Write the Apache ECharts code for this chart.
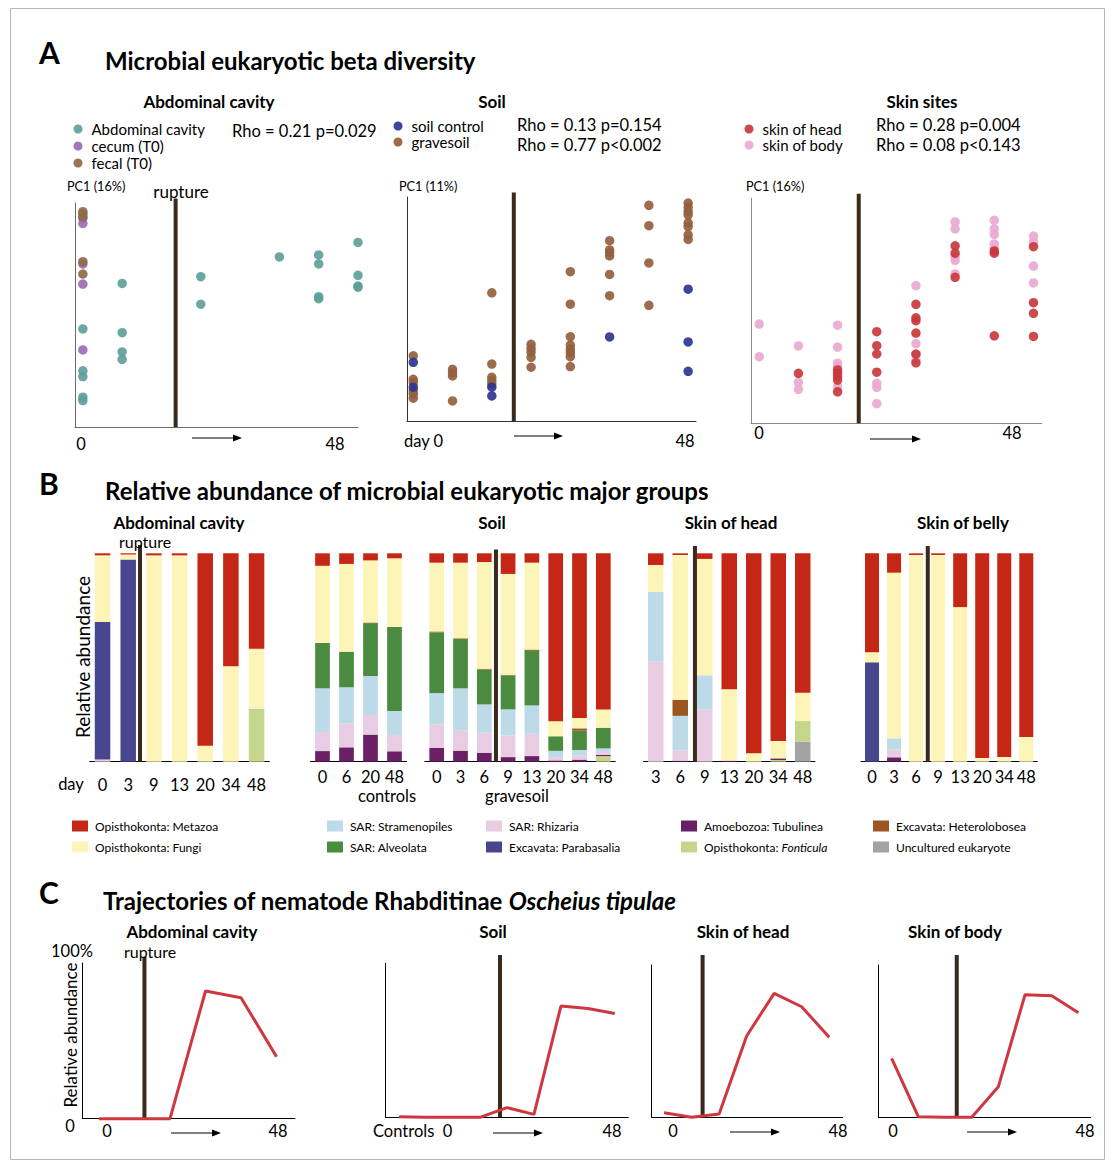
<!DOCTYPE html>
<html lang="en">
<head>
<meta charset="UTF-8">
<title>Microbial eukaryotic beta diversity</title>
<script src="https://cdn.jsdelivr.net/npm/echarts@6/dist/echarts.min.js"></script>
<style>
html, body { margin: 0; padding: 0; background: #fff; }
#main { width: 1113px; height: 1163px; }
</style>
</head>
<body>
<div id="main"></div>
<script>
// ---------- panel A : PC1 position per sampling column (column index, PC1) ----------
var abdCavityPts = [[0,43.8],[0,25.1],[0,22.5],[0,13.3],[0,11.8],[1,64.1],[1,42.1],[1,33.5],[1,30.2],
  [3,67.1],[3,54.8],[5,75.9],[6,76.8],[6,72.8],[6,58.2],[6,57.3],[7,82.4],[7,67.7],[7,62.9],[7,62.4]];
var cecumPts = [[0,93.2],[0,90.9],[0,72.8],[0,63.8],[0,34.4]];
var fecalPts = [[0,96.1],[0,95.1],[0,93.9],[0,73.8],[0,68.3]];
var soilControlPts = [[0,26.3],[0,15.2],[2,15.2],[2,11.3],[5,37.6],[7,58.9],[7,35.4],[7,22.3]];
var gravesoilPts = [[0,29.2],[0,18.7],[0,17.4],[0,13.6],[0,12.2],[0,10.3],[1,23.2],[1,21.7],[1,20.2],[1,9.1],
  [2,57.3],[2,25.5],[2,19.6],[2,18.1],[2,16.6],[3,34.3],[3,32.5],[3,30.8],[3,28.5],[3,24.1],
  [4,66.7],[4,52.2],[4,37.7],[4,34.0],[4,32.1],[4,30.6],[4,28.8],[4,24.4],
  [5,80.5],[5,76.4],[5,75.2],[5,73.8],[5,65.5],[5,56.0],[6,96.3],[6,87.2],[6,70.6],[6,51.7],
  [7,97.3],[7,95.4],[7,93.5],[7,92.0],[7,88.5],[7,86.8],[7,83.1],[7,81.1]];
var skinHeadPts = [[1,22.2],[2,23.7],[2,22.2],[2,20.7],[2,19.2],[2,14.0],[3,40.7],[3,34.5],[3,30.8],[3,22.7],
  [4,52.9],[4,46.9],[4,45.6],[4,40.1],[4,30.8],[4,26.9],[5,78.9],[5,75.6],[5,64.9],[6,76.6],[6,75.6],[6,38.9],
  [7,78.5],[7,53.6],[7,48.9],[7,38.6]];
var skinBodyPts = [[0,44.1],[0,29.6],[1,34.4],[1,18.2],[1,15.1],[2,43.6],[2,33.9],[2,26.7],[2,25.2],[2,16.3],
  [3,17.8],[3,16.0],[3,8.7],[4,61.2],[4,35.4],[4,30.4],[4,28.1],[5,89.5],[5,86.4],[5,74.1],[5,72.4],[5,66.4],
  [6,90.2],[6,86.4],[6,84.0],[6,79.7],[6,77.8],[7,83.2],[7,80.6],[7,69.9],[7,62.4]];

// ---------- panel B : relative abundance (%) ----------
// bars in order: abdominal(7) | soil controls(4) | gravesoil(8) | skin of head(7) | skin of belly(8)
var abdDays = ['0','3','9','13','20','34','48'];
var controlDays = ['0','6','20','48'];
var graveDays = ['0','3','6','9','13','20','34','48'];
var headDays = ['3','6','9','13','20','34','48'];
var bellyDays = ['0','3','6','9','13','20','34','48'];

var metazoa =       [1,0.6,1,1,92.3,54.2,45.8,  6,5.1,3.4,2.4,  4.5,4.5,4.2,9.9,4.5,80.6,79,74.9,  5.6,0.8,2.7,65.2,96,90.1,66.9,  47.5,9.3,0.8,0.8,25.8,98.2,97.8,88.2];
var fungi =         [32,2.4,99,99,7.7,45.8,29.1,  37,42.1,29.8,33,  33,36.3,51.2,48.4,41.7,7.2,5,8.8,  12.8,69.5,55.8,34.3,4,8.3,13.6,  4.8,79.5,99.2,99.2,74.2,1.8,2.2,11.8];
var heterolobosea = [0,0,0,0,0,0,0,  0,0,0.3,0,  0.5,0.3,0.3,0.3,0.6,0,1.1,0,  0,7.7,0,0,0,0,0,  0,0,0,0,0,0,0,0];
var alveolata =     [0,0,0,0,0,0,0,  21.8,17.1,25.4,40.3,  29.1,23.7,16.8,16.3,26.2,7,9.3,9.9,  0,0,0,0,0,0,0,  0,0,0,0,0,0,0,0];
var stramenopiles = [0,0,0,0,0,0,0,  21,17.4,18.7,11.5,  15,20.3,13.6,12.5,13.6,3,2.7,1.3,  33.6,16.5,16.5,0,0,0,0,  0,5.3,0,0,0,0,0,0];
var parabasalia =   [66,97,0,0,0,0,0.3,  0,0,0,0,  0,0,0,0,0,0,0,0,  0,0,0,0,0,0,0,  47.7,0,0,0,0,0,0,0];
var rhizaria =      [1,0,0,0,0,0,0,  9.1,11.4,9.4,7.8,  11.2,9.6,9.6,10.4,10.7,1.6,1.9,1.8,  48,5,25,0,0,0,0,  0,3.8,0,0,0,0,0,0];
var tubulinea =     [0,0,0,0,0,0,0,  5.1,6.9,13,5,  6.7,5.3,4.3,2.2,2.7,0.6,1,0.6,  0,0.5,0,0.5,0,0.8,0,  0,2.1,0,0,0,0,0,0];
var fonticula =     [0,0,0,0,0,0,24.8,  0,0,0,0,  0,0,0,0,0,0,0,2.7,  0,0,0,0,0,0.8,9.9,  0,0,0,0,0,0,0,0];
var uncultured =    [0,0,0,0,0,0,0,  0,0,0,0,  0,0,0,0,0,0,0,0,  0,0,0,0,0,0,9.6,  0,0,0,0,0,0,0,0];

// stacking order, bottom to top
var taxonNames = ['Uncultured eukaryote','Opisthokonta: Fonticula','Amoebozoa: Tubulinea','SAR: Rhizaria',
  'Excavata: Parabasalia','SAR: Stramenopiles','SAR: Alveolata','Excavata: Heterolobosea',
  'Opisthokonta: Fungi','Opisthokonta: Metazoa'];
var taxonValues = [uncultured, fonticula, tubulinea, rhizaria, parabasalia, stramenopiles, alveolata,
  heterolobosea, fungi, metazoa];
var taxonColors = ['#a3a3a3','#c4d68b','#6a2066','#e8cce1','#48468f','#bcdae8','#4b8b3f','#9b5622','#fdf4b8','#c52716'];

// ---------- panel C : Oscheius tipulae relative abundance (%) ----------
var abdNematode = [0, 0, 0, 82, 77.7, 39.8];
var soilNematode = [0.4, 0, 0, 0, 6.3, 1.9, 72.2, 70.7, 67.4];
var headNematode = [3.0, 0, 2.2, 53.4, 81.4, 72.6, 52.5];
var bodyNematode = [38.7, 0.4, 0, 0, 20.1, 80.5, 79.8, 68.7];

var FONT = 'Lato, "Noto Sans", sans-serif';
var RUPTURE = '#3a2a1c';

var grids = [], xAxes = [], yAxes = [], series = [], graphics = [], legends = [];

function addGrid(b) {
    grids.push({ left: b[0], top: b[1], width: b[2], height: b[3], outerBoundsMode: 'none' });
    return grids.length - 1;
}
function valAxis(g, min, max, color, show) {
    return { type: 'value', gridIndex: g, min: min, max: max, show: show !== false,
        axisLine: { show: true, onZero: false, lineStyle: { color: color, width: 1 } },
        axisTick: { show: false }, axisLabel: { show: false }, splitLine: { show: false } };
}
function rupture(xi, yi, x, top) {
    return { type: 'line', xAxisIndex: xi, yAxisIndex: yi, data: [[x, 0], [x, top]], symbol: 'none',
        clip: false, silent: true, z: 5, lineStyle: { color: RUPTURE, width: 4 } };
}

// ---- A ----
var scatterPanels = [
    { box: [75, 203, 283, 224], xr: [-0.2, 7], rup: 2.36, axis: '#6b6b6b',
      sets: [['Abdominal cavity', abdCavityPts, '#5f9f9b'], ['cecum (T0)', cecumPts, '#9b6db4'], ['fecal (T0)', fecalPts, '#8d6c4a']] },
    { box: [407, 197, 289, 224.3], xr: [-0.16, 7.2], rup: 2.56, axis: '#333',
      sets: [['gravesoil', gravesoilPts, '#94603e'], ['soil control', soilControlPts, '#2e3591']] },
    { box: [751, 198.3, 290.7, 225], xr: [-0.21, 7.21], rup: 2.54, axis: '#8a8a8a',
      sets: [['skin of body', skinBodyPts, '#eaa9d1'], ['skin of head', skinHeadPts, '#c8393d']] }
];
scatterPanels.forEach(function (p) {
    var g = addGrid(p.box);
    xAxes.push(valAxis(g, p.xr[0], p.xr[1], p.axis));
    yAxes.push(valAxis(g, 0, 100, p.axis));
    var xi = xAxes.length - 1, yi = yAxes.length - 1;
    p.sets.forEach(function (s) {
        series.push({ type: 'scatter', name: s[0], xAxisIndex: xi, yAxisIndex: yi, data: s[1],
            symbolSize: 9.5, clip: false, itemStyle: { color: s[2], opacity: 0.92 } });
    });
    series.push(rupture(xi, yi, p.rup, 102));
});

// ---- B ----
var barPanels = [
    { cats: abdDays, from: 0, box: [89.7, 553.3, 179.7, 208.4], bw: 15.5, rup: 1.96, top: 104, margin: 15 },
    { cats: controlDays, from: 7, box: [310.5, 553.3, 96, 208.4], bw: 14.7, margin: 7 },
    { cats: graveDays, from: 11, box: [424.8, 553.3, 190.4, 208.4], bw: 14.7, rup: 2.99, top: 101.8, margin: 7 },
    { cats: headDays, from: 19, box: [643.5, 553.3, 171.5, 208.4], bw: 15.5, rup: 2.10, top: 103.5, margin: 7 },
    { cats: bellyDays, from: 26, box: [861, 553.3, 176.3, 208.4], bw: 14, rup: 3.03, top: 103.5, margin: 7 }
];
barPanels.forEach(function (p, k) {
    var g = addGrid(p.box);
    xAxes.push({ type: 'category', gridIndex: g, data: p.cats,
        axisLine: { lineStyle: { color: '#000', width: 1 } }, axisTick: { show: false },
        axisLabel: { interval: 0, margin: p.margin, color: '#000', fontSize: 16.5, fontFamily: FONT } });
    var xi = xAxes.length - 1;
    yAxes.push(valAxis(g, 0, 100, '#000', false));
    var yi = yAxes.length - 1;
    taxonNames.forEach(function (name, t) {
        series.push({ type: 'bar', name: name, xAxisIndex: xi, yAxisIndex: yi, stack: 'b' + k,
            barWidth: p.bw, itemStyle: { color: taxonColors[t] },
            data: taxonValues[t].slice(p.from, p.from + p.cats.length) });
    });
    if (p.rup !== undefined) {
        xAxes.push(valAxis(g, 0, p.cats.length, '#000', false));
        series.push(rupture(xAxes.length - 1, yi, p.rup, p.top));
    }
});

// ---- C ----
var linePanels = [
    { vals: abdNematode, box: [82.3, 963, 212.7, 155.7], xr: [-0.47, 5.52], rup: 1.28, top: 104 },
    { vals: soilNematode, box: [385.7, 963.3, 242.6, 154], xr: [-0.5, 8.5], rup: 3.74, top: 105.4 },
    { vals: headNematode, box: [651.7, 965, 191, 152.3], xr: [-0.45, 6.49], rup: 1.40, top: 106.6 },
    { vals: bodyNematode, box: [878.3, 965, 212.4, 152.3], xr: [-0.5, 7.46], rup: 2.44, top: 106.6 }
];
linePanels.forEach(function (p) {
    var g = addGrid(p.box);
    xAxes.push(valAxis(g, p.xr[0], p.xr[1], '#000'));
    yAxes.push(valAxis(g, 0, 100, '#000'));
    var xi = xAxes.length - 1, yi = yAxes.length - 1;
    series.push(rupture(xi, yi, p.rup, p.top));
    series.push({ type: 'line', xAxisIndex: xi, yAxisIndex: yi, symbol: 'none', clip: false, z: 6,
        lineStyle: { color: '#cf3740', width: 3 },
        data: p.vals.map(function (v, i) { return [i, v]; }) });
});

// ---- legends ----
function scatterLegend(left, top, gap, names) {
    legends.push({ data: names, orient: 'vertical', left: left, top: top, padding: 0, itemGap: gap,
        icon: 'circle', itemWidth: 9, itemHeight: 9, selectedMode: false,
        textStyle: { fontSize: 15, color: '#000', fontFamily: FONT, padding: [0, 0, 0, 4] } });
}
scatterLegend(73.5, 121.5, 2, ['Abdominal cavity', 'cecum (T0)', 'fecal (T0)']);
scatterLegend(393.5, 118.5, 1, ['soil control', 'gravesoil']);
scatterLegend(744.5, 121.5, 1, ['skin of head', 'skin of body']);

var legendCols = [
    [72, ['Opisthokonta: Metazoa', 'Opisthokonta: Fungi']],
    [327, ['SAR: Stramenopiles', 'SAR: Alveolata']],
    [486, ['SAR: Rhizaria', 'Excavata: Parabasalia']],
    [681, ['Amoebozoa: Tubulinea', 'Opisthokonta: Fonticula']],
    [873, ['Excavata: Heterolobosea', 'Uncultured eukaryote']]
];
legendCols.forEach(function (c) {
    legends.push({ data: c[1], orient: 'vertical', left: c[0], top: 820, padding: 0, itemGap: 9,
        icon: 'rect', itemWidth: 16, itemHeight: 11, selectedMode: false,
        formatter: function (n) { return n === 'Opisthokonta: Fonticula' ? 'Opisthokonta: {i|Fonticula}' : n; },
        textStyle: { fontSize: 12, color: '#000', fontFamily: FONT, padding: [0, 0, 0, 2],
            rich: { i: { fontSize: 12, fontStyle: 'italic', fontFamily: FONT } } } });
});

// ---- texts ----
function txt(x, y, s, size, o) {
    o = o || {};
    return { type: 'text', x: x, y: y, rotation: o.rot || 0, silent: true, z: 10,
        style: { text: s, fill: '#000', textAlign: o.align || 'left', textVerticalAlign: 'middle',
            font: (o.weight || 'normal') + ' ' + size + 'px ' + FONT } };
}
function arrow(x1, x2, y) {
    graphics.push({ type: 'line', silent: true, shape: { x1: x1, y1: y, x2: x2 - 5, y2: y }, style: { stroke: '#000', lineWidth: 1 } });
    graphics.push({ type: 'polygon', silent: true, shape: { points: [[x2, y], [x2 - 9, y - 3.5], [x2 - 9, y + 3.5]] }, style: { fill: '#000' } });
}

graphics.push({ type: 'rect', silent: true, shape: { x: 10.5, y: 8.5, width: 1094, height: 1151 },
    style: { fill: 'none', stroke: '#b5b5b5', lineWidth: 1 } });

var SUB = 17, NUM = 16.5;
graphics.push(
    txt(39, 52, 'A', 30, { weight: 'bold' }),
    txt(105, 60, 'Microbial eukaryotic beta diversity', 24, { weight: 'bold' }),
    txt(209, 101, 'Abdominal cavity', SUB, { weight: 'bold', align: 'center' }),
    txt(492, 101, 'Soil', SUB, { weight: 'bold', align: 'center' }),
    txt(922, 101, 'Skin sites', SUB, { weight: 'bold', align: 'center' }),
    txt(232, 131, 'Rho = 0.21 p=0.029', 16.5),
    txt(517, 125, 'Rho = 0.13 p=0.154', 16.5),
    txt(517, 145, 'Rho = 0.77 p<0.002', 16.5),
    txt(876, 125, 'Rho = 0.28 p=0.004', 16.5),
    txt(876, 145, 'Rho = 0.08 p<0.143', 16.5),
    txt(67, 186, 'PC1 (16%)', 12.7),
    txt(399, 186, 'PC1 (11%)', 12.7),
    txt(746, 186, 'PC1 (16%)', 12.7),
    txt(181, 191, 'rupture', 17, { align: 'center' }),
    txt(81, 444, '0', NUM, { align: 'center' }),
    txt(335, 444, '48', NUM, { align: 'center' }),
    txt(404, 441, 'day 0', NUM),
    txt(685, 441, '48', NUM, { align: 'center' }),
    txt(759, 433, '0', NUM, { align: 'center' }),
    txt(1012, 433, '48', NUM, { align: 'center' }),

    txt(39, 483, 'B', 30, { weight: 'bold' }),
    txt(105, 490, 'Relative abundance of microbial eukaryotic major groups', 24, { weight: 'bold' }),
    txt(179, 522, 'Abdominal cavity', SUB, { weight: 'bold', align: 'center' }),
    txt(492, 522, 'Soil', SUB, { weight: 'bold', align: 'center' }),
    txt(731, 522, 'Skin of head', SUB, { weight: 'bold', align: 'center' }),
    txt(963, 522, 'Skin of belly', SUB, { weight: 'bold', align: 'center' }),
    txt(145, 541, 'rupture', 16, { align: 'center' }),
    txt(82, 657, 'Relative abundance', 19, { align: 'center', rot: Math.PI / 2 }),
    txt(71, 784, 'day', NUM, { align: 'center' }),
    txt(387, 796, 'controls', NUM, { align: 'center' }),
    txt(517, 796, 'gravesoil', NUM, { align: 'center' }),

    txt(39, 892, 'C', 30, { weight: 'bold' }),
    { type: 'text', x: 103, y: 900, silent: true, z: 10,
      style: { text: '{b|Trajectories of nematode Rhabditinae }{i|Oscheius tipulae}', fill: '#000', textVerticalAlign: 'middle',
        rich: { b: { fontSize: 24, fontWeight: 'bold', fontFamily: FONT },
                i: { fontSize: 24, fontWeight: 'bold', fontStyle: 'italic', fontFamily: FONT } } } },
    txt(192, 931, 'Abdominal cavity', SUB, { weight: 'bold', align: 'center' }),
    txt(493, 931, 'Soil', SUB, { weight: 'bold', align: 'center' }),
    txt(743, 931, 'Skin of head', SUB, { weight: 'bold', align: 'center' }),
    txt(955, 931, 'Skin of body', SUB, { weight: 'bold', align: 'center' }),
    txt(150, 951, 'rupture', 16, { align: 'center' }),
    txt(72, 951, '100%', NUM, { align: 'center' }),
    txt(70, 1126, '0', NUM, { align: 'center' }),
    txt(70, 1035, 'Relative abundance', 17, { align: 'center', rot: Math.PI / 2 }),
    txt(107, 1131, '0', NUM, { align: 'center' }),
    txt(278, 1131, '48', NUM, { align: 'center' }),
    txt(373, 1131, 'Controls  0', NUM),
    txt(612, 1131, '48', NUM, { align: 'center' }),
    txt(673, 1131, '0', NUM, { align: 'center' }),
    txt(838, 1131, '48', NUM, { align: 'center' }),
    txt(893, 1131, '0', NUM, { align: 'center' }),
    txt(1085, 1131, '48', NUM, { align: 'center' })
);
arrow(192, 242, 438);
arrow(514, 563, 436);
arrow(870, 921, 439);
arrow(171, 221, 1133);
arrow(493, 543, 1133);
arrow(730, 780, 1132);
arrow(967, 1017, 1132);

var chart = echarts.init(document.getElementById('main'), null, { renderer: 'svg' });
chart.setOption({
    animation: false,
    backgroundColor: '#fff',
    grid: grids,
    xAxis: xAxes,
    yAxis: yAxes,
    legend: legends,
    series: series,
    graphic: graphics
});
</script>
</body>
</html>
